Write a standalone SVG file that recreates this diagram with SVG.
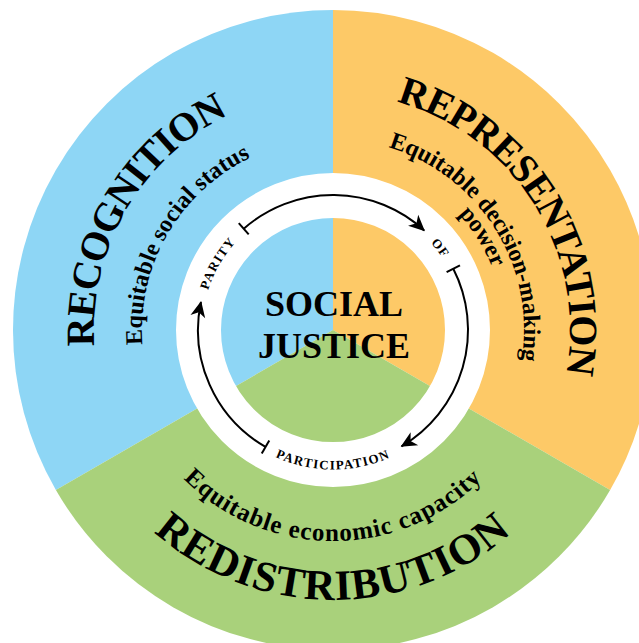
<svg xmlns="http://www.w3.org/2000/svg" xmlns:xlink="http://www.w3.org/1999/xlink" width="639" height="643" viewBox="0 0 639 643">
  <style>
    .serif { font-family: "Liberation Serif", "Times New Roman", serif; font-weight: bold; fill: #000; }
    .title { font-size: 40px; letter-spacing: -1px; }
    .sub { font-size: 24px; }
    .tag { font-size: 13px; letter-spacing: 1.3px; }
    .centre { font-size: 36px; }
    .loop { fill: none; stroke: #000; stroke-width: 2; marker-start: url(#tick); marker-end: url(#head); }
  </style>
  <defs>
    <!-- centre of every ring: (333,330) -->
    <!-- clockwise baselines (text faces outward) -->
    <path id="p-recog" d="M195.91,525.79 A239,239 0 0 1 434.0,113.4"/>
    <path id="p-recog-sub" d="M223.44,486.47 A191,191 0 0 1 413.72,156.9"/>
    <path id="p-repr" d="M225.41,118.83 A237,237 0 0 1 475.63,519.27"/>
    <path id="p-repr-sub" d="M246.29,159.82 A191,191 0 0 1 447.94,482.53"/>
    <path id="p-repr-sub2" d="M255.37,177.64 A171,171 0 0 1 435.91,466.56"/>
    <path id="p-parity" d="M257.86,437.31 A131,131 0 0 1 388.36,211.27"/>
    <path id="p-of" d="M263.0,219.27 A131,131 0 0 1 421.16,426.89"/>
    <!-- counter-clockwise baselines along the bottom (text faces inward) -->
    <path id="p-redis" d="M64.03,353.53 A270,270 0 0 0 601.97,353.53"/>
    <path id="p-redis-sub" d="M122.8,348.39 A211,211 0 0 0 543.2,348.39"/>
    <path id="p-particip" d="M194.03,342.16 A139.5,139.5 0 0 0 471.97,342.16"/>

    <marker id="head" markerUnits="userSpaceOnUse" markerWidth="20" markerHeight="18" viewBox="-18 -9 20 18" refX="0" refY="0" orient="auto">
      <path d="M1,0 L-15,-7.5 L-10.5,0 L-15,7.5 Z" fill="#000"/>
    </marker>
    <marker id="tick" markerUnits="userSpaceOnUse" markerWidth="4" markerHeight="18" viewBox="-2 -9 4 18" refX="0" refY="0" orient="auto">
      <path d="M0,-7.5 L0,7.5" stroke="#000" stroke-width="2"/>
    </marker>
  </defs>

  <rect width="639" height="643" fill="#fff"/>

  <g id="recognition">
    <path d="M333,330 L333,10 A320,320 0 0 0 55.87,490 Z" fill="#8ed6f5"/>
    <text class="serif title"><textPath href="#p-recog" xlink:href="#p-recog" startOffset="50%" text-anchor="middle">RECOGNITION</textPath></text>
    <text class="serif sub"><textPath href="#p-recog-sub" xlink:href="#p-recog-sub" startOffset="50%" text-anchor="middle">Equitable social status</textPath></text>
  </g>

  <g id="representation">
    <path d="M333,330 L333,10 A320,320 0 0 1 610.13,490 Z" fill="#fdc967"/>
    <text class="serif title"><textPath href="#p-repr" xlink:href="#p-repr" startOffset="50%" text-anchor="middle">REPRESENTATION</textPath></text>
    <text class="serif sub"><textPath href="#p-repr-sub" xlink:href="#p-repr-sub" startOffset="50%" text-anchor="middle">Equitable decision-making</textPath></text>
    <text class="serif sub"><textPath href="#p-repr-sub2" xlink:href="#p-repr-sub2" startOffset="50%" text-anchor="middle">power</textPath></text>
  </g>

  <g id="redistribution">
    <path d="M333,330 L610.13,490 A320,320 0 0 1 55.87,490 Z" fill="#a9d17b"/>
    <text class="serif" style="font-size:43px;letter-spacing:1px"><textPath href="#p-redis" xlink:href="#p-redis" startOffset="50%" text-anchor="middle">REDISTRIBUTION</textPath></text>
    <text class="serif" style="font-size:25px;letter-spacing:1px"><textPath href="#p-redis-sub" xlink:href="#p-redis-sub" startOffset="50%" text-anchor="middle">Equitable economic capacity</textPath></text>
  </g>

  <!-- white band carrying the parity-of-participation loop -->
  <circle id="band" cx="333" cy="330" r="134.5" fill="none" stroke="#fff" stroke-width="45"/>

  <g id="social-justice">
    <text class="serif centre" x="334" y="316" text-anchor="middle">SOCIAL</text>
    <text class="serif centre" x="334" y="358" text-anchor="middle">JUSTICE</text>
  </g>

  <g id="connectors">
    <path class="loop" d="M243.72,228.74 A135,135 0 0 1 424.21,230.46"/>
    <path class="loop" d="M453.29,268.71 A135,135 0 0 1 401.51,446.32"/>
    <path class="loop" d="M265.5,446.91 A135,135 0 0 1 200.95,301.93"/>
  </g>

  <g id="loop-labels">
    <text class="serif tag"><textPath href="#p-parity" xlink:href="#p-parity" startOffset="50%" text-anchor="middle">PARITY</textPath></text>
    <text class="serif tag"><textPath href="#p-of" xlink:href="#p-of" startOffset="50%" text-anchor="middle">OF</textPath></text>
    <text class="serif tag"><textPath href="#p-particip" xlink:href="#p-particip" startOffset="50%" text-anchor="middle">PARTICIPATION</textPath></text>
  </g>
</svg>
